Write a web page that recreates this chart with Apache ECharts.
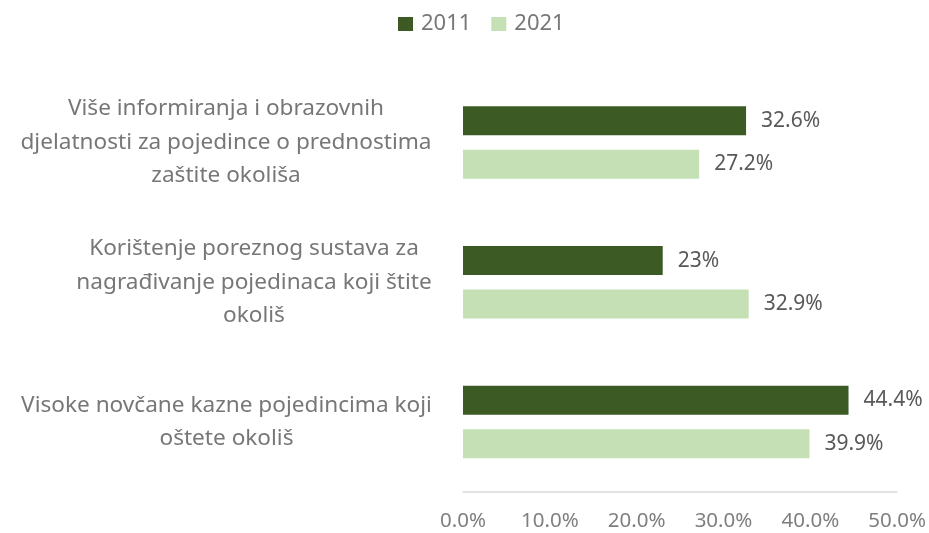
<!DOCTYPE html>
<html>
<head>
<meta charset="utf-8">
<script src="https://cdn.jsdelivr.net/npm/echarts@6/dist/echarts.min.js"></script>
<style>html,body{margin:0;padding:0;background:#fff;}#c{width:929px;height:533px;}</style>
</head>
<body>
<div id="c"></div>
<script>
var categories = [
  ["Više informiranja i obrazovnih", "djelatnosti za pojedince o prednostima", "zaštite okoliša"],
  ["Korištenje poreznog sustava za", "nagrađivanje pojedinaca koji štite", "okoliš"],
  ["Visoke novčane kazne pojedincima koji", "oštete okoliš"]
];
var seriesNames = ["2011", "2021"];
var values2011 = [32.6, 23, 44.4];
var values2021 = [27.2, 32.9, 39.9];
var tickLabels = ["0.0%", "10.0%", "20.0%", "30.0%", "40.0%", "50.0%"];

var FONT = "Noto Sans";
var catSize = 22.6;
var ctx = document.createElement('canvas').getContext('2d');
ctx.font = catSize + 'px "' + FONT + '"';
var rich = {};
categories.forEach(function (lines, i) {
  var w = 0;
  lines.forEach(function (l) { w = Math.max(w, ctx.measureText(l).width); });
  rich['r' + i] = { width: Math.ceil(w) + 2, align: 'center', fontSize: catSize, fontFamily: FONT, color: '#777777', lineHeight: 33.5 };
});

var chart = echarts.init(document.getElementById('c'), null, { renderer: 'canvas' });
function fmtVal(p) {
  var v = p.value;
  return (Math.round(v * 10) / 10).toString() + '%';
}
chart.setOption({
  animation: false,
  textStyle: { fontFamily: FONT },
  legend: {
    data: seriesNames,
    top: 8,
    left: 393,
    itemWidth: 15,
    itemHeight: 14,
    itemGap: 20,
    icon: 'rect',
    textStyle: { fontSize: 22, color: '#777777', fontFamily: FONT, padding: [0, 0, 0, 3] }
  },
  grid: { left: 463, right: 31, top: 72.6, bottom: 41, containLabel: false },
  xAxis: {
    type: 'value',
    min: 0, max: 50, interval: 10,
    axisLine: { show: true, lineStyle: { color: '#d9d9d9', width: 1.5 } },
    axisTick: { show: false },
    splitLine: { show: false },
    axisLabel: {
      margin: 19,
      fontSize: 20.5, color: '#7f7f7f', fontFamily: FONT,
      formatter: function (v) { return tickLabels[Math.round(v / 10)]; }
    }
  },
  yAxis: {
    type: 'category',
    inverse: true,
    data: categories.map(function (l) { return l.join('\n'); }),
    axisLine: { show: false },
    axisTick: { show: false },
    axisLabel: {
      margin: 30,
      align: 'right',
      formatter: function (v, i) {
        return categories[i].map(function (l) { return '{r' + i + '|' + l + '}'; }).join('\n');
      },
      rich: rich
    }
  },
  series: [
    {
      name: seriesNames[0], type: 'bar', data: values2011,
      barWidth: 29, barGap: '50%',
      itemStyle: { color: '#3b5a24' },
      label: { show: true, position: 'right', distance: 15, fontSize: 21, color: '#595959', fontFamily: FONT, formatter: fmtVal }
    },
    {
      name: seriesNames[1], type: 'bar', data: values2021,
      barWidth: 29, barGap: '50%',
      itemStyle: { color: '#c5e0b4' },
      label: { show: true, position: 'right', distance: 15, fontSize: 21, color: '#595959', fontFamily: FONT, formatter: fmtVal }
    }
  ]
});
</script>
</body>
</html>
